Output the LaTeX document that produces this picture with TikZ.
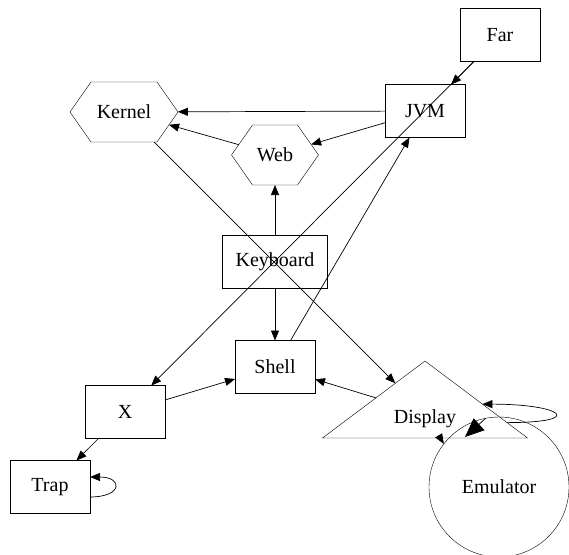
\documentclass[tikz,border=0pt]{standalone}
\usepackage{fontspec}
\setmainfont{Liberation Serif}
\usetikzlibrary{arrows.meta,calc,shapes.geometric,shapes.symbols}

\begin{document}
\begin{tikzpicture}[x=1pt,y=-1pt,
  font=\fontsize{20}{24}\selectfont,
  every node/.style={inner sep=0pt,outer sep=0pt},
  box/.style={draw,rectangle,minimum width=80pt,minimum height=53pt},
  hexa/.style={draw,signal,signal to=east and west,signal pointer angle=110},
  edge/.style={-{Triangle[length=10pt,width=8pt]},line width=0.7pt},
  bigedge/.style={-{Triangle[length=19pt,width=16pt]},line width=0.7pt}]

\useasboundingbox (0,0) rectangle (569,554);
  \node[box] (far) at (500,35) {Far};
  \node[box] (jvm) at (425,111) {JVM};
  \node[hexa,minimum width=108pt,minimum height=60pt] (kernel) at (124,112) {Kernel};
  \node[hexa,minimum width=87pt,minimum height=60pt] (web) at (275,155) {Web};
  \node[box,minimum width=105pt] (keyboard) at (275,262) {Keyboard};
  \node[box] (shell) at (275,367) {Shell};
  \node[box] (x) at (125,412) {X};
  \node[box] (trap) at (50,487) {Trap};
  \node[draw,isosceles triangle,isosceles triangle apex angle=106,isosceles triangle stretches,
        shape border rotate=90,minimum width=205pt,minimum height=77pt,
        text height=22pt,text depth=0pt,anchor=lower side] (disp) at (425,438) {Display};
  \node[draw,circle,minimum size=140pt] (emu) at (499,487) {Emulator};
  \coordinate (dbase) at (465,437);

  \draw[edge] (far) -- (jvm);
  \draw[edge] (far) -- (x);
  \draw[edge] (jvm) -- (kernel);
  \draw[edge] (jvm) -- (web);
  \draw[edge] (web) -- (kernel);
  \draw[edge] (kernel) -- (disp);
  \draw[edge] (keyboard) -- (web);
  \draw[edge] (keyboard) -- (shell);
  \draw[edge] (shell) -- (jvm);
  \draw[edge] (x) -- (shell);
  \draw[edge] (x) -- (trap);
  \draw[edge] ([yshift=-10pt]trap.east) .. controls +(33,0) and +(33,0) .. ([yshift=10pt]trap.east);
  \draw[edge] (disp) -- (shell);
  \draw[edge] ($(disp.apex)!0.8!(disp.right corner)$) .. controls +(80,0) and +(80,0)
    .. ($(disp.apex)!0.56!(disp.right corner)$);
  \draw[edge] (disp) -- (emu.142);
  \draw[bigedge] (emu.101) -- (dbase);
\end{tikzpicture}
\end{document}
